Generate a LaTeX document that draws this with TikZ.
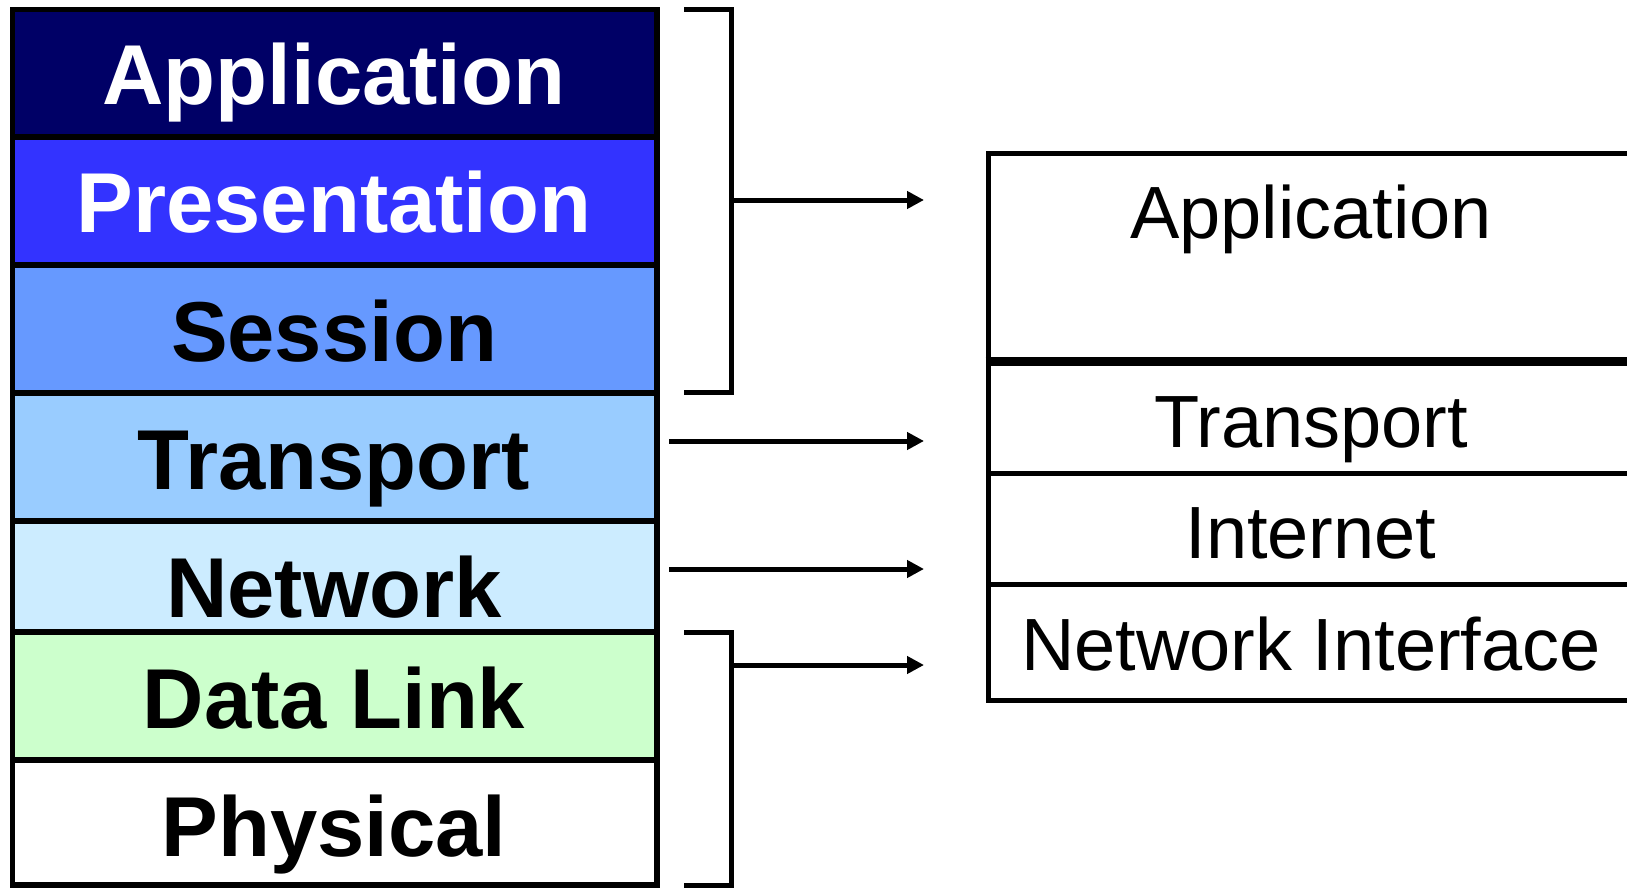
\documentclass[tikz,border=0pt]{standalone}
\usepackage{fontspec}
\setmainfont{Liberation Sans}
\usetikzlibrary{arrows.meta}
\definecolor{cApp}{HTML}{000066}
\definecolor{cPre}{HTML}{3333FF}
\definecolor{cSes}{HTML}{6699FF}
\definecolor{cTra}{HTML}{99CCFF}
\definecolor{cNet}{HTML}{CCECFF}
\definecolor{cDat}{HTML}{CCFFCC}
\begin{document}
\begin{tikzpicture}[x=1pt,y=-1pt,
  osilayer/.style={draw=black,line width=5.5pt,rectangle,inner sep=0pt,minimum width=644.5pt},
  ositext/.style={anchor=base,inner sep=0pt,font=\fontsize{85}{90}\selectfont\bfseries},
  tcplayer/.style={draw=black,line width=5pt,rectangle,inner sep=0pt,minimum width=646pt,fill=white},
  tcptext/.style={anchor=base,inner sep=0pt,font=\fontsize{74}{80}\selectfont},
  brk/.style={line width=5pt,line join=miter},
  arr/.style={line width=5pt,-{Triangle[length=17pt,width=17pt]}}]
\useasboundingbox (0,0) rectangle (1627,888);
\clip (0,0) rectangle (1627,888);
% OSI stack
\node[osilayer,fill=cApp,minimum height=127.5pt] (app) at (334.75,73.25) {};
\node[osilayer,fill=cPre,minimum height=128pt] (pre) at (334.75,201) {};
\node[osilayer,fill=cSes,minimum height=128pt] (ses) at (334.75,329) {};
\node[osilayer,fill=cTra,minimum height=128pt] (tra) at (334.75,457) {};
\node[osilayer,fill=cNet,minimum height=111pt] (net) at (334.75,576.5) {};
\node[osilayer,fill=cDat,minimum height=128pt] (dat) at (334.75,696) {};
\node[osilayer,fill=white,minimum height=125pt] (phy) at (334.75,822.5) {};
\node[ositext,text=white] (appt) at (334,105) {Application};
\node[ositext,text=white] (pret) at (334,232) {Presentation};
\node[ositext] (sest) at (334,361) {Session};
\node[ositext] (trat) at (334,489) {Transport};
\node[ositext] (nett) at (334,617) {Network};
\node[ositext] (datt) at (334,728) {Data Link};
\node[ositext] (phyt) at (334,856) {Physical};
% TCP/IP stack
\node[tcplayer,minimum height=206pt] (tapp) at (1311,256) {};
\node[tcplayer,minimum height=114pt] (ttra) at (1311,416) {};
\node[tcplayer,minimum height=111pt] (tint) at (1311,528.5) {};
\node[tcplayer,minimum height=116pt] (tnif) at (1311,642) {};
\draw[line width=8.5pt] (tapp.south west) -- (tapp.south east);
\node[tcptext] (tappt) at (1311,238) {Application};
\node[tcptext] (ttrat) at (1311,447) {Transport};
\node[tcptext] (tintt) at (1311,558) {Internet};
\node[tcptext] (tnift) at (1311,670) {Network Interface};
% brackets
\coordinate (b1a) at (684,10);
\coordinate (b1b) at (731,10);
\coordinate (b1c) at (731,392);
\coordinate (b1d) at (684,392);
\coordinate (b1m) at (731,200);
\coordinate (e1) at (924,200);
\draw[brk] (b1a) -- (b1b) -- (b1c) -- (b1d);
\draw[arr] (b1m) -- (e1);
\coordinate (s2) at (669,441);
\coordinate (e2) at (924,441);
\draw[arr] (s2) -- (e2);
\coordinate (s3) at (669,569);
\coordinate (e3) at (924,569);
\draw[arr] (s3) -- (e3);
\coordinate (b4a) at (684,632);
\coordinate (b4b) at (731,632);
\coordinate (b4c) at (731,885);
\coordinate (b4d) at (684,885);
\coordinate (b4m) at (731,665);
\coordinate (e4) at (924,665);
\draw[brk] (b4a) -- (b4b) -- (b4c) -- (b4d);
\draw[arr] (b4m) -- (e4);
\end{tikzpicture}
\end{document}
